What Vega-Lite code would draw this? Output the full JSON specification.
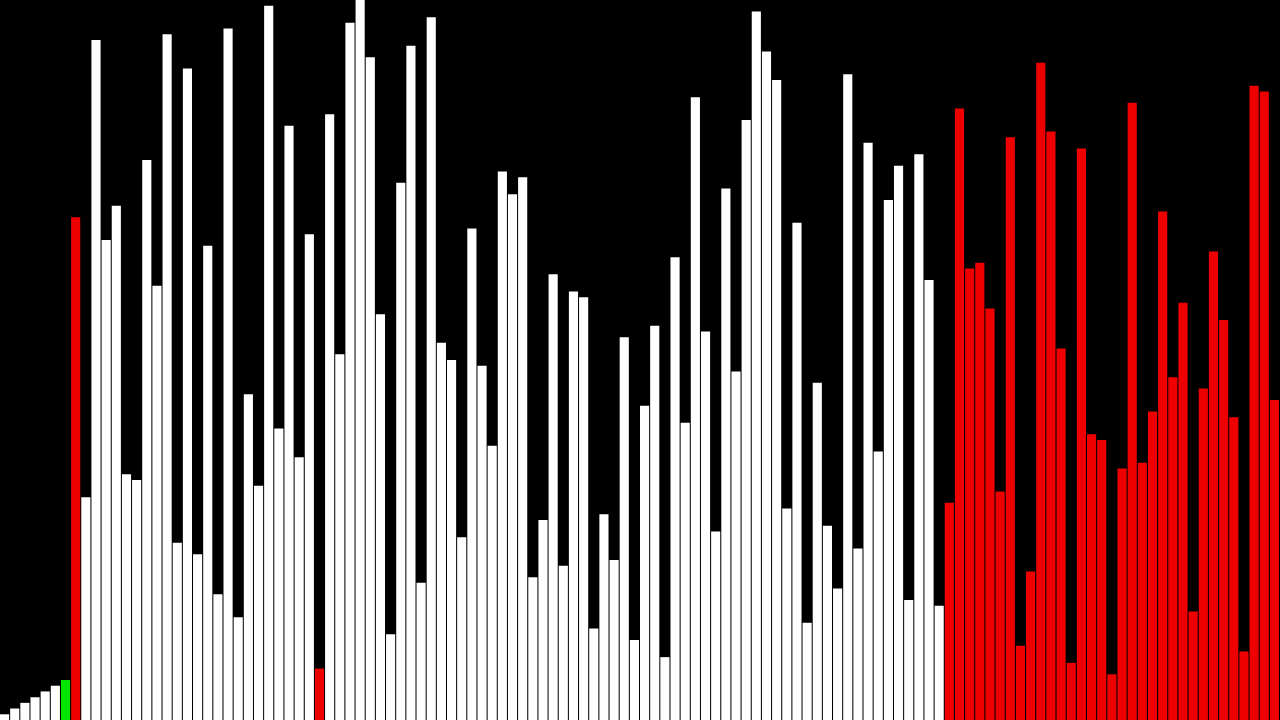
{
  "$schema": "https://vega.github.io/schema/vega-lite/v6.json",
  "width": 1280,
  "height": 720,
  "autosize": {"type": "fit", "contains": "padding"},
  "padding": 0,
  "background": "#000000",
  "config": {"view": {"stroke": null}},
  "data": {
    "values": [
      {"i":0,"v":1,"s":"normal"},{"i":1,"v":2,"s":"normal"},{"i":2,"v":3,"s":"normal"},{"i":3,"v":4,"s":"normal"},
      {"i":4,"v":5,"s":"normal"},{"i":5,"v":6,"s":"normal"},{"i":6,"v":7,"s":"current"},{"i":7,"v":88,"s":"compare"},
      {"i":8,"v":39,"s":"normal"},{"i":9,"v":119,"s":"normal"},{"i":10,"v":84,"s":"normal"},{"i":11,"v":90,"s":"normal"},
      {"i":12,"v":43,"s":"normal"},{"i":13,"v":42,"s":"normal"},{"i":14,"v":98,"s":"normal"},{"i":15,"v":76,"s":"normal"},
      {"i":16,"v":120,"s":"normal"},{"i":17,"v":31,"s":"normal"},{"i":18,"v":114,"s":"normal"},{"i":19,"v":29,"s":"normal"},
      {"i":20,"v":83,"s":"normal"},{"i":21,"v":22,"s":"normal"},{"i":22,"v":121,"s":"normal"},{"i":23,"v":18,"s":"normal"},
      {"i":24,"v":57,"s":"normal"},{"i":25,"v":41,"s":"normal"},{"i":26,"v":125,"s":"normal"},{"i":27,"v":51,"s":"normal"},
      {"i":28,"v":104,"s":"normal"},{"i":29,"v":46,"s":"normal"},{"i":30,"v":85,"s":"normal"},{"i":31,"v":9,"s":"compare"},
      {"i":32,"v":106,"s":"normal"},{"i":33,"v":64,"s":"normal"},{"i":34,"v":122,"s":"normal"},{"i":35,"v":126,"s":"normal"},
      {"i":36,"v":116,"s":"normal"},{"i":37,"v":71,"s":"normal"},{"i":38,"v":15,"s":"normal"},{"i":39,"v":94,"s":"normal"},
      {"i":40,"v":118,"s":"normal"},{"i":41,"v":24,"s":"normal"},{"i":42,"v":123,"s":"normal"},{"i":43,"v":66,"s":"normal"},
      {"i":44,"v":63,"s":"normal"},{"i":45,"v":32,"s":"normal"},{"i":46,"v":86,"s":"normal"},{"i":47,"v":62,"s":"normal"},
      {"i":48,"v":48,"s":"normal"},{"i":49,"v":96,"s":"normal"},{"i":50,"v":92,"s":"normal"},{"i":51,"v":95,"s":"normal"},
      {"i":52,"v":25,"s":"normal"},{"i":53,"v":35,"s":"normal"},{"i":54,"v":78,"s":"normal"},{"i":55,"v":27,"s":"normal"},
      {"i":56,"v":75,"s":"normal"},{"i":57,"v":74,"s":"normal"},{"i":58,"v":16,"s":"normal"},{"i":59,"v":36,"s":"normal"},
      {"i":60,"v":28,"s":"normal"},{"i":61,"v":67,"s":"normal"},{"i":62,"v":14,"s":"normal"},{"i":63,"v":55,"s":"normal"},
      {"i":64,"v":69,"s":"normal"},{"i":65,"v":11,"s":"normal"},{"i":66,"v":81,"s":"normal"},{"i":67,"v":52,"s":"normal"},
      {"i":68,"v":109,"s":"normal"},{"i":69,"v":68,"s":"normal"},{"i":70,"v":33,"s":"normal"},{"i":71,"v":93,"s":"normal"},
      {"i":72,"v":61,"s":"normal"},{"i":73,"v":105,"s":"normal"},{"i":74,"v":124,"s":"normal"},{"i":75,"v":117,"s":"normal"},
      {"i":76,"v":112,"s":"normal"},{"i":77,"v":37,"s":"normal"},{"i":78,"v":87,"s":"normal"},{"i":79,"v":17,"s":"normal"},
      {"i":80,"v":59,"s":"normal"},{"i":81,"v":34,"s":"normal"},{"i":82,"v":23,"s":"normal"},{"i":83,"v":113,"s":"normal"},
      {"i":84,"v":30,"s":"normal"},{"i":85,"v":101,"s":"normal"},{"i":86,"v":47,"s":"normal"},{"i":87,"v":91,"s":"normal"},
      {"i":88,"v":97,"s":"normal"},{"i":89,"v":21,"s":"normal"},{"i":90,"v":99,"s":"normal"},{"i":91,"v":77,"s":"normal"},
      {"i":92,"v":20,"s":"normal"},{"i":93,"v":38,"s":"compare"},{"i":94,"v":107,"s":"compare"},{"i":95,"v":79,"s":"compare"},
      {"i":96,"v":80,"s":"compare"},{"i":97,"v":72,"s":"compare"},{"i":98,"v":40,"s":"compare"},{"i":99,"v":102,"s":"compare"},
      {"i":100,"v":13,"s":"compare"},{"i":101,"v":26,"s":"compare"},{"i":102,"v":115,"s":"compare"},{"i":103,"v":103,"s":"compare"},
      {"i":104,"v":65,"s":"compare"},{"i":105,"v":10,"s":"compare"},{"i":106,"v":100,"s":"compare"},{"i":107,"v":50,"s":"compare"},
      {"i":108,"v":49,"s":"compare"},{"i":109,"v":8,"s":"compare"},{"i":110,"v":44,"s":"compare"},{"i":111,"v":108,"s":"compare"},
      {"i":112,"v":45,"s":"compare"},{"i":113,"v":54,"s":"compare"},{"i":114,"v":89,"s":"compare"},{"i":115,"v":60,"s":"compare"},
      {"i":116,"v":73,"s":"compare"},{"i":117,"v":19,"s":"compare"},{"i":118,"v":58,"s":"compare"},{"i":119,"v":82,"s":"compare"},
      {"i":120,"v":70,"s":"compare"},{"i":121,"v":53,"s":"compare"},{"i":122,"v":12,"s":"compare"},{"i":123,"v":111,"s":"compare"},
      {"i":124,"v":110,"s":"compare"},{"i":125,"v":56,"s":"compare"}
    ]
  },
  "mark": {"type": "bar", "stroke": null},
  "encoding": {
    "x": {
      "field": "i",
      "type": "ordinal",
      "sort": null,
      "axis": null,
      "scale": {"paddingInner": 0.1, "paddingOuter": 0}
    },
    "y": {
      "field": "v",
      "type": "quantitative",
      "axis": null,
      "scale": {"domain": [0, 126], "nice": false, "zero": true}
    },
    "color": {
      "field": "s",
      "type": "nominal",
      "legend": null,
      "scale": {"domain": ["normal", "current", "compare"], "range": ["#ffffff", "#00e400", "#ee0000"]}
    }
  }
}
